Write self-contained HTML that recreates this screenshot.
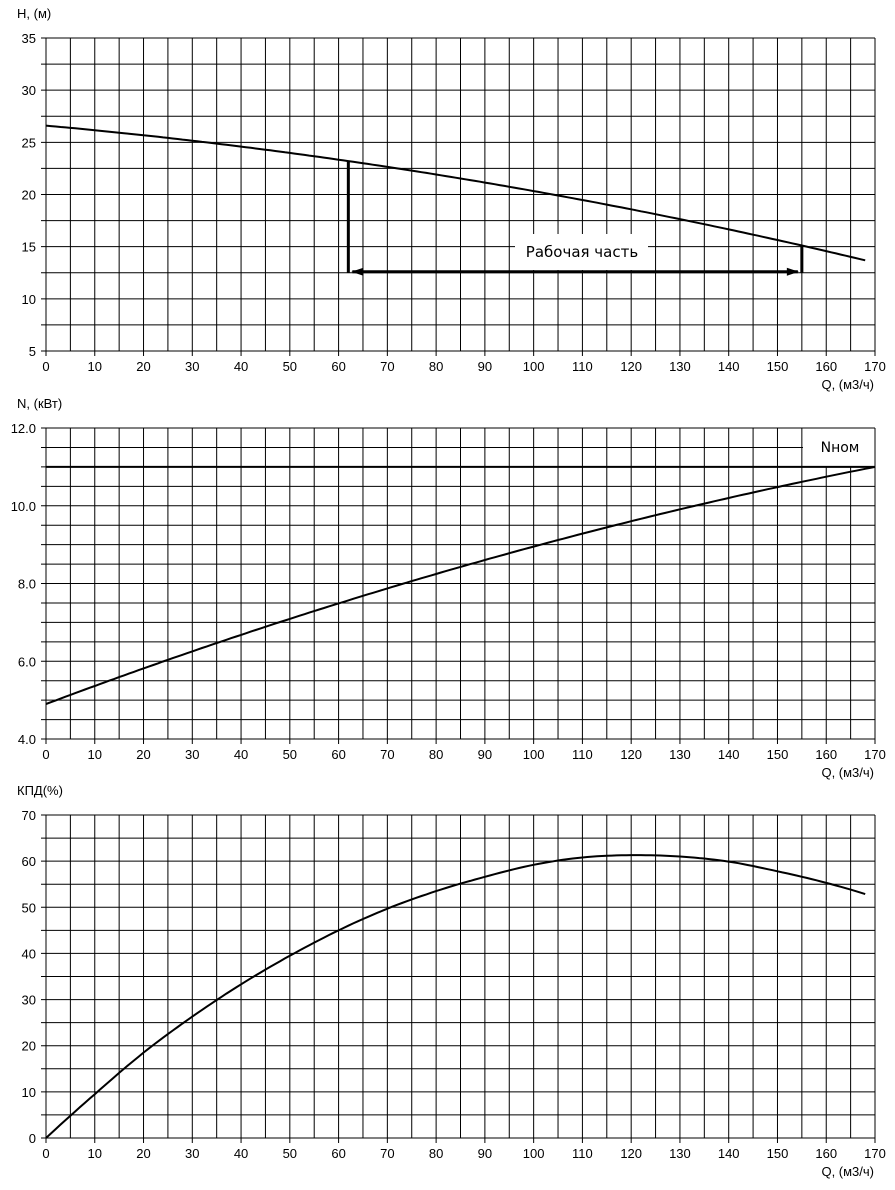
<!DOCTYPE html>
<html><head><meta charset="utf-8"><style>
html,body{margin:0;padding:0;background:#fff;}
svg{display:block;font-family:"Liberation Sans",sans-serif;font-size:13px;}
</style></head><body>
<svg id="s" width="895" height="1190" xmlns="http://www.w3.org/2000/svg"></svg>
<script>
var s=document.getElementById('s'),out='';
var L=46,R=875,kx=(R-L)/170;
function X(q){return L+q*kx;}
function chart(top,bot,ymin,ymax,step,labStep,fmt,title,fn,qmax,skip){
  var Y=function(v){return bot-(v-ymin)/(ymax-ymin)*(bot-top);};
  for(var q=0;q<=170;q+=5){var x=X(q);
    var y0=top; if(skip&&x>skip.x&&x<R-1)y0=skip.y;
    out+='<line x1="'+x+'" y1="'+y0+'" x2="'+x+'" y2="'+(bot+(q%10==0?5:0))+'" stroke="#000"/>';}
  for(var v=ymin;v<=ymax+1e-9;v+=step){var y=Y(v);var x2=R;if(skip&&y<skip.y-0.5&&y>top+0.5)x2=skip.x;
    out+='<line x1="'+(L-5)+'" y1="'+y+'" x2="'+x2+'" y2="'+y+'" stroke="#000"/>';}
  out+='<line x1="'+L+'" y1="'+top+'" x2="'+L+'" y2="'+bot+'" stroke="#000"/>';
  out+='<line x1="'+R+'" y1="'+top+'" x2="'+R+'" y2="'+bot+'" stroke="#000"/>';
  out+='<line x1="'+L+'" y1="'+top+'" x2="'+R+'" y2="'+top+'" stroke="#000"/>';
  for(var v=ymin;v<=ymax+1e-9;v+=labStep){out+='<text x="36" y="'+(Y(v)+5)+'" text-anchor="end">'+fmt(v)+'</text>';}
  for(var q=0;q<=170;q+=10){out+='<text x="'+X(q)+'" y="'+(bot+20)+'" text-anchor="middle">'+q+'</text>';}
  out+='<text x="'+(R-1)+'" y="'+(bot+38)+'" text-anchor="end">Q, (м3/ч)</text>';
  out+='<text x="17" y="'+(top-20)+'">'+title+'</text>';
  var p='';for(var q=0;q<=qmax;q+=1){p+=(q?'L':'M')+X(q).toFixed(1)+','+Y(fn(q)).toFixed(1);}
  out+='<path d="'+p+'" fill="none" stroke="#000" stroke-width="2"/>';
  return Y;
}
var H=function(q){return 26.6-0.0419*q-0.000208*q*q;};
var Y1=chart(38,351,5,35,2.5,5,function(v){return v},'H, (м)',H,168);
[62,155].forEach(function(q){out+='<line x1="'+X(q)+'" y1="'+Y1(H(q))+'" x2="'+X(q)+'" y2="'+Y1(12.5)+'" stroke="#000" stroke-width="3"/>';});
var ya=Y1(12.5)-1;
out+='<line x1="'+(X(62)+4)+'" y1="'+ya+'" x2="'+(X(155)-4)+'" y2="'+ya+'" stroke="#000" stroke-width="3"/>';
out+='<path d="M'+(X(62)+3)+','+ya+'l12,-4v8z M'+(X(155)-3)+','+ya+'l-12,-4v8z" fill="#000"/>';
out+='<rect x="515" y="234" width="133" height="36" fill="#fff"/>';
out+='<text x="582" y="257" text-anchor="middle" style="font-size:15px;font-family:\'DejaVu Sans\',sans-serif">Рабочая часть</text>';
var N=function(q){return 4.9+0.0471*q-0.000066*q*q;};
var Y2=chart(428,739,4,12,0.5,2,function(v){return v.toFixed(1)},'N, (кВт)',N,170,{x:803,y:467});
out+='<line x1="'+L+'" y1="'+Y2(11)+'" x2="'+R+'" y2="'+Y2(11)+'" stroke="#000" stroke-width="2"/>';
out+='<text x="840" y="452" text-anchor="middle" style="font-size:14px;font-family:\'DejaVu Sans\',sans-serif">Nном</text>';
var pts=[[-10,-10.3],[0,0],[10,9.5],[20,18.5],[30,26.3],[40,33.3],[50,39.5],[60,45],[70,49.7],[80,53.5],[90,56.6],[100,59.2],[110,60.8],[120,61.3],[130,61.0],[140,59.9],[150,57.8],[160,55.3],[170,52.2],[180,48.5]];
var K=function(q){var i=Math.floor(q/10)+1;if(i>18)i=18;var a=pts[i-1],b=pts[i],c=pts[i+1],d=pts[i+2]||pts[i+1];var t=(q-b[0])/10;
return 0.5*((2*b[1])+(-a[1]+c[1])*t+(2*a[1]-5*b[1]+4*c[1]-d[1])*t*t+(-a[1]+3*b[1]-3*c[1]+d[1])*t*t*t);};
chart(815,1138,0,70,5,10,function(v){return v},'КПД(%)',K,168);
s.innerHTML=out;
</script>
</body></html>
